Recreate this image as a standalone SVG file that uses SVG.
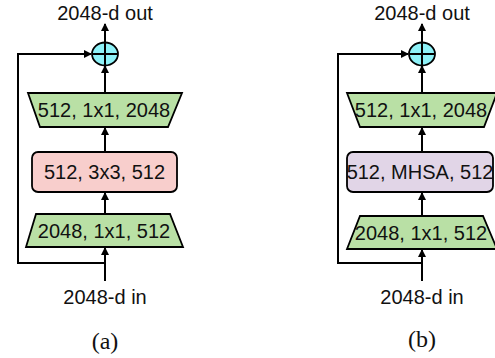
<svg xmlns="http://www.w3.org/2000/svg" width="495" height="358" viewBox="0 0 495 358">
<style>
.t{font-family:"Liberation Sans",Arial,sans-serif;font-size:20px;fill:#111;text-anchor:middle}
.c{font-family:"Liberation Serif","Times New Roman",serif;font-size:24px;fill:#111;text-anchor:middle}
.g{fill:#b9e0a5;stroke:#000;stroke-width:1.8}
.p{fill:#f8cecc;stroke:#000;stroke-width:1.8}
.v{fill:#e1d5e7;stroke:#000;stroke-width:1.8}
.s{fill:#8ef2f8;stroke:#000;stroke-width:1.8}
.e{fill:none;stroke:#000;stroke-width:2}
</style>
<defs>
<marker id="ah" markerWidth="8" markerHeight="8" viewBox="0 0 8 8" refX="7" refY="4" orient="auto" markerUnits="userSpaceOnUse">
<path d="M0,0 L8,4 L0,8 Z" fill="#000"/>
</marker>
</defs>
<g id="connectors">
<line class="e" x1="105" y1="43" x2="105" y2="24" marker-end="url(#ah)"/>
<line class="e" x1="105" y1="93" x2="105" y2="66" marker-end="url(#ah)"/>
<line class="e" x1="105" y1="152" x2="105" y2="128" marker-end="url(#ah)"/>
<line class="e" x1="105" y1="214" x2="105" y2="193" marker-end="url(#ah)"/>
<line class="e" x1="105" y1="281" x2="105" y2="248" marker-end="url(#ah)"/>
<polyline class="e" points="105,263 18,263 18,54 91,54" marker-end="url(#ah)"/>
<line class="e" x1="422" y1="43" x2="422" y2="24" marker-end="url(#ah)"/>
<line class="e" x1="422" y1="93" x2="422" y2="66" marker-end="url(#ah)"/>
<line class="e" x1="422" y1="152" x2="422" y2="128" marker-end="url(#ah)"/>
<line class="e" x1="422" y1="216" x2="422" y2="193" marker-end="url(#ah)"/>
<line class="e" x1="422" y1="281" x2="422" y2="250" marker-end="url(#ah)"/>
<polyline class="e" points="422,263 338,263 338,54 408,54" marker-end="url(#ah)"/>
</g>
<g id="a-out"><text class="t" x="105" y="20">2048-d out</text></g>
<g id="a-sum"><ellipse class="s" cx="105" cy="54" rx="13" ry="11.5"/><line class="e" x1="92" y1="54" x2="118" y2="54"/><line class="e" x1="105" y1="42.5" x2="105" y2="65.5"/></g>
<g id="a-conv3"><polygon class="g" points="28,93 182,93 168,127 40,127"/><text class="t" x="104" y="117">512, 1x1, 2048</text></g>
<g id="a-conv2"><rect class="p" x="32" y="152" width="145" height="40" rx="6"/><text class="t" x="104.5" y="179">512, 3x3, 512</text></g>
<g id="a-conv1"><polygon class="g" points="36,214 170,214 183,247 26,247"/><text class="t" x="104" y="238">2048, 1x1, 512</text></g>
<g id="a-in"><text class="t" x="105" y="304">2048-d in</text></g>
<g id="a-cap"><text class="c" x="105" y="349">(a)</text></g>
<g id="b-out"><text class="t" x="422" y="20">2048-d out</text></g>
<g id="b-sum"><ellipse class="s" cx="422" cy="54" rx="13" ry="11.5"/><line class="e" x1="409" y1="54" x2="435" y2="54"/><line class="e" x1="422" y1="42.5" x2="422" y2="65.5"/></g>
<g id="b-conv3"><polygon class="g" points="347,93 497,93 484,127 360,127"/><text class="t" x="421" y="117">512, 1x1, 2048</text></g>
<g id="b-mhsa"><rect class="v" x="347" y="152" width="146" height="40" rx="6"/><text class="t" x="420" y="179">512, MHSA, 512</text></g>
<g id="b-conv1"><polygon class="g" points="360,216 483,216 497,249 347,249"/><text class="t" x="421" y="240">2048, 1x1, 512</text></g>
<g id="b-in"><text class="t" x="422" y="304">2048-d in</text></g>
<g id="b-cap"><text class="c" x="422" y="347">(b)</text></g>
</svg>
